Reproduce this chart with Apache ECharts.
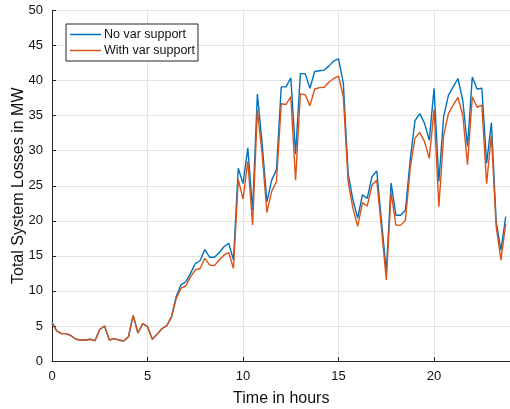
<!DOCTYPE html>
<html>
<head>
<meta charset="utf-8">
<script src="https://cdn.jsdelivr.net/npm/echarts@6/dist/echarts.min.js"></script>
<style>html,body{margin:0;padding:0;background:#fff}#c{width:510px;height:409px}</style>
</head>
<body>
<div id="c"></div>
<script>
const hours = [0,0.25,0.5,0.75,1,1.25,1.5,1.75,2,2.25,2.5,2.75,3,3.25,3.5,3.75,4,4.25,4.5,4.75,
5,5.25,5.5,5.75,6,6.25,6.5,6.75,7,7.25,7.5,7.75,8,8.25,8.5,8.75,9,9.25,9.5,9.75,
10,10.25,10.5,10.75,11,11.25,11.5,11.75,12,12.25,12.5,12.75,13,13.25,13.5,13.75,14,14.25,14.5,14.75,
15,15.25,15.5,15.75,16,16.25,16.5,16.75,17,17.25,17.5,17.75,18,18.25,18.5,18.75,19,19.25,19.5,19.75,
20,20.25,20.5,20.75,21,21.25,21.5,21.75,22,22.25,22.5,22.75,23,23.25,23.5,23.75];

const noVarSupport = [5.5,4.3,3.9,3.9,3.6,3.1,3.0,3.0,3.1,2.9,4.5,5.0,3.0,3.2,3.0,2.85,3.45,6.5,4.0,5.35,
4.9,3.1,3.8,4.6,5.0,6.3,9.2,10.85,11.3,12.5,13.9,14.3,15.9,14.8,14.8,15.45,16.3,16.8,14.4,27.5,
25.3,30.4,21.5,38.1,31.0,22.7,25.8,27.3,39.1,39.1,40.4,29.5,41.0,41.0,38.9,41.3,41.4,41.5,42.1,42.8,
43.1,39.6,26.8,23.0,20.4,23.7,23.2,26.3,27.1,19.9,12.75,25.4,20.8,20.8,21.5,28.7,34.3,35.3,33.9,31.5,
38.9,25.6,34.85,37.9,39.1,40.3,37.2,30.6,40.5,38.8,38.9,28.2,34.0,19.9,15.8,20.6];

const withVarSupport = [5.3,4.3,3.9,3.9,3.6,3.1,3.0,3.0,3.1,2.9,4.5,5.0,3.0,3.2,3.0,2.85,3.45,6.5,4.0,5.35,
4.9,3.1,3.8,4.6,5.0,6.2,8.9,10.4,10.7,12.0,13.0,13.2,14.65,13.7,13.6,14.4,15.1,15.5,13.2,25.9,
23.1,28.5,19.4,35.8,29.5,21.2,24.2,25.6,36.7,36.6,37.7,25.8,38.1,38.0,36.4,38.8,39.0,39.05,39.8,40.3,
40.65,37.7,25.6,21.8,19.2,22.6,22.1,25.1,25.8,18.8,11.55,24.0,19.4,19.35,20.1,27.5,31.8,32.6,31.3,28.9,
35.9,22.0,32.2,35.3,36.5,37.6,35.1,28.0,37.7,36.2,36.5,25.3,32.2,19.2,14.4,19.6];

const seriesNames = ['No var support', 'With var support'];
const xTitle = 'Time in hours';
const yTitle = 'Total System Losses in MW';

const font = '"Liberation Sans", Arial, Helvetica, sans-serif';
const axisCol = '#262626';
const gridCol = '#e3e3e3';

const chart = echarts.init(document.getElementById('c'), null, {renderer: 'canvas'});
chart.setOption({
  animation: false,
  backgroundColor: '#fff',
  grid: {left: 52, top: 10.5, width: 458.5, height: 350.5, containLabel: false, outerBoundsMode: 'none'},
  legend: {
    orient: 'vertical', left: 66, top: 24,
    data: seriesNames,
    icon: 'rect', itemWidth: 31, itemHeight: 1.5, itemGap: 3,
    padding: [4, 3, 4, 4],
    borderColor: axisCol, borderWidth: 1, backgroundColor: '#fff',
    textStyle: {fontFamily: font, fontSize: 12.5, color: '#111', padding: [0,0,0,-2]}
  },
  xAxis: {
    type: 'value', min: 0, max: 24, interval: 5,
    name: xTitle, nameLocation: 'middle', nameGap: 30, nameMoveOverlap: false,
    nameTextStyle: {fontFamily: font, fontSize: 16, color: '#111'},
    axisLine: {show: true, onZero: false, lineStyle: {color: axisCol, width: 1}},
    axisTick: {show: true, inside: true, length: 4, lineStyle: {color: axisCol}},
    axisLabel: {fontFamily: font, fontSize: 13, color: '#111', margin: 9,
      formatter: v => (v % 5 === 0 ? String(v) : '')},
    splitLine: {show: true, lineStyle: {color: gridCol, width: 1}}
  },
  yAxis: {
    type: 'value', min: 0, max: 50, interval: 5,
    name: yTitle, nameLocation: 'middle', nameGap: 25, nameMoveOverlap: false,
    nameTextStyle: {fontFamily: font, fontSize: 16, color: '#111'},
    axisLine: {show: true, onZero: false, lineStyle: {color: axisCol, width: 1}},
    axisTick: {show: true, inside: true, length: 4, lineStyle: {color: axisCol}},
    axisLabel: {fontFamily: font, fontSize: 13, color: '#111', margin: 9},
    splitLine: {show: true, lineStyle: {color: gridCol, width: 1}}
  },
  series: [
    {name: seriesNames[0], type: 'line', symbol: 'none', color: '#0072BD',
     lineStyle: {width: 1.4}, data: hours.map((h, i) => [h, noVarSupport[i]])},
    {name: seriesNames[1], type: 'line', symbol: 'none', color: '#D95319',
     lineStyle: {width: 1.4}, data: hours.map((h, i) => [h, withVarSupport[i]])}
  ]
});
</script>
</body>
</html>
